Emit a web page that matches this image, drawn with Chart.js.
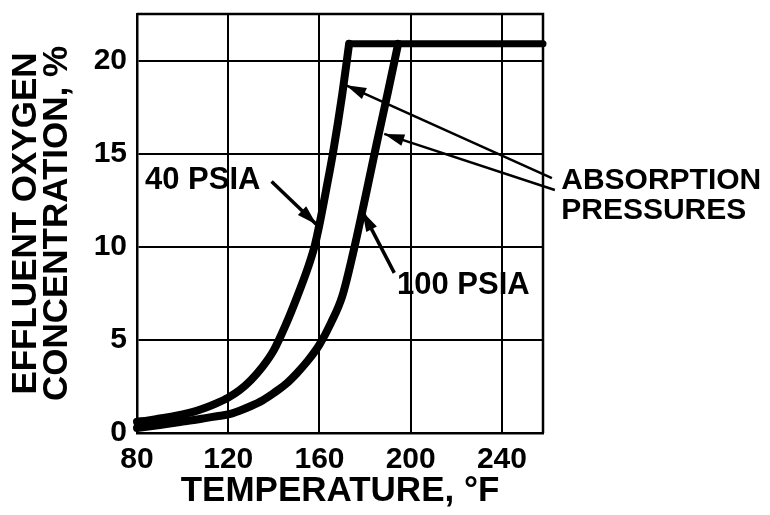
<!DOCTYPE html>
<html>
<head>
<meta charset="utf-8">
<script src="https://cdn.jsdelivr.net/npm/chart.js@4.4.1/dist/chart.umd.min.js"></script>
<style>
  html, body { margin: 0; padding: 0; background: #fff; }
</style>
</head>
<body>
<canvas id="myChart" width="770" height="515"></canvas>
<script>
// effluent O2 (%) vs temperature (F)
const temps40 = [80, 85, 90, 95, 100, 105, 110, 115, 120, 125, 130, 135, 140, 145, 150, 155, 158, 160, 163, 166, 170, 173]
const oxy40 = [0.6, 0.68, 0.78, 0.88, 1.0, 1.15, 1.35, 1.6, 1.9, 2.3, 2.85, 3.55, 4.45, 5.75, 7.25, 8.9, 10.1, 11.2, 13.1, 15.1, 18.2, 20.9]
const temps100 = [80, 85, 90, 95, 100, 105, 110, 115, 120, 125, 130, 135, 140, 145, 150, 155, 160, 165, 170, 175, 180, 185, 190, 194.5]
const oxy100 = [0.27, 0.35, 0.43, 0.52, 0.62, 0.7, 0.8, 0.9, 1.0, 1.2, 1.45, 1.75, 2.15, 2.6, 3.2, 3.9, 4.75, 5.9, 7.35, 9.8, 12.6, 15.5, 18.3, 20.9]
const ambientTemps = [173, 258]
const ambientOxy = [20.9, 20.9]

const xTicks = [80, 120, 160, 200, 240]
const yTicks = [0, 5, 10, 15, 20]

// callouts, in data units
const noteTexts = ['40 PSIA', '100 PSIA', 'ABSORPTION', 'PRESSURES']
const noteX = [83.5, 194, 266, 266]
const noteY = [13.1, 7.45, 13.1, 11.48]
const arrowFromX = [139, 192.8, 261.9, 263.2]
const arrowFromY = [13.5, 8.6, 13.69, 13.05]
const arrowToX = [158.7, 178.8, 171.7, 188.4]
const arrowToY = [11.2, 11.9, 18.67, 16.06]

const FONT = "'Liberation Sans', Arial, sans-serif"

const toPoints = (xs, ys) => xs.map((t, i) => ({x: t, y: ys[i]}))

const curveStyle = {
  showLine: true,
  borderColor: '#000',
  borderWidth: 8,
  pointRadius: 0,
  cubicInterpolationMode: 'monotone',
  borderCapStyle: 'round',
  borderJoinStyle: 'round',
  clip: false
}

function arrowHead(ctx, x0, y0, x1, y1, len, half) {
  const a = Math.atan2(y1 - y0, x1 - x0)
  ctx.beginPath()
  ctx.moveTo(x1, y1)
  ctx.lineTo(x1 - len * Math.cos(a) + half * Math.sin(a), y1 - len * Math.sin(a) - half * Math.cos(a))
  ctx.lineTo(x1 - len * Math.cos(a) - half * Math.sin(a), y1 - len * Math.sin(a) + half * Math.cos(a))
  ctx.closePath()
  ctx.fill()
}

const notesPlugin = {
  id: 'notes',
  afterDraw(chart) {
    const {ctx, chartArea, scales: {x, y}} = chart
    ctx.save()
    // frame: top and right edges
    ctx.strokeStyle = '#000'
    ctx.lineWidth = 2.5
    ctx.beginPath()
    ctx.moveTo(chartArea.left, chartArea.top)
    ctx.lineTo(chartArea.right, chartArea.top)
    ctx.lineTo(chartArea.right, chartArea.bottom)
    ctx.stroke()

    ctx.fillStyle = '#000'
    for (let i = 0; i < arrowFromX.length; i++) {
      const x0 = x.getPixelForValue(arrowFromX[i])
      const y0 = y.getPixelForValue(arrowFromY[i])
      const x1 = x.getPixelForValue(arrowToX[i])
      const y1 = y.getPixelForValue(arrowToY[i])
      ctx.lineWidth = i < 2 ? 3.5 : 2.5
      ctx.beginPath()
      ctx.moveTo(x0, y0)
      ctx.lineTo(x1, y1)
      ctx.stroke()
      arrowHead(ctx, x0, y0, x1, y1, 20, 6)
    }

    ctx.textBaseline = 'alphabetic'
    ctx.textAlign = 'left'
    noteTexts.forEach((txt, i) => {
      ctx.font = (i < 2 ? 'bold 31px ' : 'bold 30px ') + FONT
      ctx.fillText(txt, x.getPixelForValue(noteX[i]), y.getPixelForValue(noteY[i]))
    })
    ctx.restore()
  }
}

new Chart(document.getElementById('myChart'), {
  type: 'scatter',
  data: {
    datasets: [
      {label: '40 PSIA', data: toPoints(temps40, oxy40), ...curveStyle},
      {label: '100 PSIA', data: toPoints(temps100, oxy100), ...curveStyle},
      {label: 'ambient', data: toPoints(ambientTemps, ambientOxy), ...curveStyle, borderWidth: 7, cubicInterpolationMode: 'default'}
    ]
  },
  options: {
    responsive: false,
    animation: false,
    devicePixelRatio: 1,
    layout: {padding: {top: 14, right: 227, left: 0, bottom: 0}},
    plugins: {
      legend: {display: false},
      tooltip: {enabled: false}
    },
    scales: {
      x: {
        type: 'linear',
        min: 80,
        max: 258,
        afterBuildTicks: s => { s.ticks = xTicks.map(v => ({value: v})) },
        afterFit: s => { s.height = 82 },
        grid: {color: '#000', lineWidth: 2, drawTicks: false},
        border: {color: '#000', width: 2.5},
        ticks: {color: '#000', padding: 9, maxRotation: 0, font: {family: FONT, size: 30, weight: 'bold'}},
        title: {
          display: true,
          text: 'TEMPERATURE, °F',
          color: '#000',
          font: {family: FONT, size: 35, weight: 'bold', lineHeight: 1},
          padding: {top: 0, bottom: 6}
        }
      },
      y: {
        min: 0,
        max: 22.5,
        afterBuildTicks: s => { s.ticks = yTicks.map(v => ({value: v})) },
        afterFit: s => {
          s.width = 137
          s.paddingTop = 0
          s.paddingBottom = 0
        },
        grid: {color: '#000', lineWidth: 2, drawTicks: false},
        border: {color: '#000', width: 2.5},
        ticks: {color: '#000', padding: 10, font: {family: FONT, size: 30, weight: 'bold'}},
        title: {
          display: true,
          text: ['EFFLUENT OXYGEN', 'CONCENTRATION, %'],
          color: '#000',
          font: {family: FONT, size: 35, weight: 'bold', lineHeight: '31px'},
          padding: {top: 11, bottom: 0}
        }
      }
    }
  },
  plugins: [notesPlugin]
})
</script>
</body>
</html>
